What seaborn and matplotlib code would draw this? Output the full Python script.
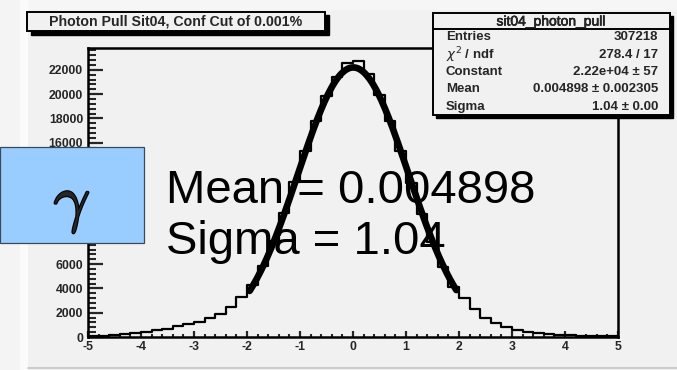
import numpy as np
import pandas as pd
import matplotlib
matplotlib.use("Agg")
import matplotlib.pyplot as plt
from matplotlib.patches import Rectangle
from matplotlib.lines import Line2D
import matplotlib.patheffects as pe
import seaborn as sns

# ---- histogram contents: 50 bins of width 0.2 between -5 and 5 ----
x_range = (-5.0, 5.0)
bin_width = 0.2
counts = [
    90, 120, 160, 220, 330, 430, 560, 700, 880, 1040,
    1260, 1540, 1880, 2450, 3300, 4300, 5850, 7900, 10250, 12800,
    15350, 17800, 19850, 21400, 22550, 22700, 21700, 19900, 17750, 15300,
    12700, 10150, 7800, 5800, 4150, 3200, 2280, 1540, 1130, 800,
    575, 410, 300, 220, 165, 130, 110, 95, 80, 70,
]

# ---- gaussian fit results ----
fit_constant = 2.22e4
fit_mean = 0.004898
fit_sigma = 1.04
fit_range = (-1.95, 1.95)

# ---- statistics box ----
stats_title = "sit04_photon_pull"
stats_labels = ["Entries", r"$\chi^{2}$ / ndf", "Constant", "Mean", "Sigma"]
stats_values = ["307218", "278.4 / 17", "2.22e+04 \u00b1 57",
                "0.004898 \u00b1 0.002305", "1.04 \u00b1 0.00"]

title = "Photon Pull Sit04, Conf Cut of 0.001%"
x_ticks = [-5, -4, -3, -2, -1, 0, 1, 2, 3, 4, 5]
y_ticks = [0, 2000, 4000, 6000, 8000, 10000, 12000, 14000, 16000, 18000, 20000, 22000]
y_max = 23800

n_bins = len(counts)
edges = np.linspace(x_range[0], x_range[1], n_bins + 1)
hist_df = pd.DataFrame({"pull": 0.5 * (edges[:-1] + edges[1:]), "n": counts})

xs = np.linspace(fit_range[0], fit_range[1], 300)
fit_df = pd.DataFrame({
    "pull": xs,
    "n": fit_constant * np.exp(-0.5 * ((xs - fit_mean) / fit_sigma) ** 2),
})

sns.set_style("ticks")
plt.rcParams["font.family"] = ["Liberation Sans", "DejaVu Sans"]

W, H = 677, 370
BG = "#f1f1f1"
fig = plt.figure(figsize=(W / 100, H / 100), dpi=100, facecolor=BG)


def fx(px):
    return px / W


def fy(py):
    return 1 - py / H


# canvas surroundings
fig.add_artist(Rectangle((fx(0), fy(H)), fx(20), 1, transform=fig.transFigure,
                         facecolor="#f4f4f4", edgecolor="none", zorder=0))
fig.add_artist(Rectangle((fx(20), fy(H)), fx(8), 1, transform=fig.transFigure,
                         facecolor="#fbfbfb", edgecolor="none", zorder=0))
fig.add_artist(Rectangle((fx(28), fy(10)), fx(W - 28), 10 / H, transform=fig.transFigure,
                         facecolor="#f6f6f6", edgecolor="none", zorder=0))
fig.add_artist(Line2D([fx(28), 1], [fy(368), fy(368)], transform=fig.transFigure,
                      color="#c4c4c4", lw=1.2, zorder=0))

ax = fig.add_axes([fx(88), fy(337), fx(618 - 88), (337 - 48) / H])
ax.set_facecolor(BG)

sns.histplot(data=hist_df, x="pull", weights="n", binwidth=bin_width,
             binrange=x_range, element="step", fill=False, color="black",
             linewidth=1.6, ax=ax)
sns.lineplot(data=fit_df, x="pull", y="n", color="black", linewidth=4.8, ax=ax)

ax.set_xlim(*x_range)
ax.set_ylim(0, y_max)
ax.set_xlabel("")
ax.set_ylabel("")
ax.set_xticks(x_ticks)
ax.set_yticks(y_ticks)
ax.set_xticks(np.arange(-5, 5.01, 0.2), minor=True)
ax.set_yticks(np.arange(0, y_max, 400), minor=True)
ax.set_xticklabels([str(t) for t in x_ticks], fontsize=8.8, fontweight="bold")
ax.set_yticklabels([str(t) for t in y_ticks], fontsize=8.8, fontweight="bold")
ax.tick_params(axis="y", which="major", direction="in", length=10.5, width=1.6, pad=3.5)
ax.tick_params(axis="y", which="minor", direction="in", length=6, width=1.5)
ax.tick_params(axis="x", which="major", direction="in", length=4.5, width=1.6, pad=3)
ax.tick_params(axis="x", which="minor", direction="in", length=2.3, width=1.5)
for side in ["top", "right", "bottom", "left"]:
    ax.spines[side].set_visible(True)
    ax.spines[side].set_linewidth(1.8)
    ax.spines[side].set_color("black")


def boxed(x0, y0, x1, y1, shadow, z):
    fig.add_artist(Rectangle((fx(x0 + shadow), fy(y1 + shadow)), fx(x1 - x0), (y1 - y0) / H,
                             transform=fig.transFigure, facecolor="black",
                             edgecolor="black", lw=1, zorder=z))
    fig.add_artist(Rectangle((fx(x0), fy(y1)), fx(x1 - x0), (y1 - y0) / H,
                             transform=fig.transFigure, facecolor=BG,
                             edgecolor="black", lw=1.4, zorder=z + 0.1))


# title box
boxed(27, 12, 325, 31, 3.5, 5)
fig.text(fx(176), fy(22), title, ha="center", va="center", fontsize=10.2,
         fontweight="bold", zorder=6)

# statistics box
boxed(433, 13, 670, 115, 3, 5)
fig.add_artist(Line2D([fx(433), fx(670)], [fy(29), fy(29)], transform=fig.transFigure,
                      color="black", lw=1.4, zorder=6))
fig.text(fx(551), fy(21.5), stats_title, ha="center", va="center", fontsize=10,
         zorder=6, path_effects=[pe.withStroke(linewidth=0.4, foreground="black")])
for i, (lab, val) in enumerate(zip(stats_labels, stats_values)):
    yy = fy(37.5 + 17.3 * i)
    fig.text(fx(446), yy, lab, ha="left", va="center", fontsize=9.5,
             fontweight="bold", math_fontfamily="dejavusans", zorder=6)
    fig.text(fx(658), yy, val, ha="right", va="center", fontsize=9.5,
             fontweight="bold", zorder=6)

# annotation
fig.text(fx(166), fy(203), f"Mean = {fit_mean}", ha="left", va="baseline",
         fontsize=34, color="black", zorder=7)
fig.text(fx(166), fy(254), f"Sigma = {fit_sigma:.2f}", ha="left", va="baseline",
         fontsize=34, color="black", zorder=7)

# particle label
fig.add_artist(Rectangle((fx(0), fy(243)), fx(144), (243 - 147) / H,
                         transform=fig.transFigure, facecolor="#99ccff",
                         edgecolor="#3a4a5a", lw=0.9, zorder=8))
fig.text(fx(72), fy(206), r"$\gamma$", ha="center", va="center", fontsize=46,
         math_fontfamily="cm", zorder=9,
         path_effects=[pe.withStroke(linewidth=1.6, foreground="black")])

fig.savefig("out.png", dpi=100, facecolor=BG)
